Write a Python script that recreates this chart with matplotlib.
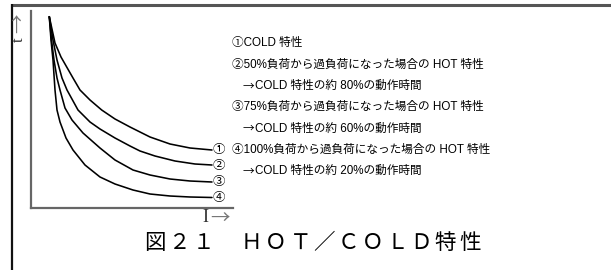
import matplotlib
matplotlib.use("Agg")
import matplotlib.pyplot as plt

plt.rcParams['font.family'] = ['Noto Sans CJK JP', 'DejaVu Sans']

# Curve data (I, t) in arbitrary units
cold_I = [18.3, 24, 30, 35.7, 42, 49, 59, 70.7, 84, 99, 119, 139, 159, 181]
cold_t = [191.3, 165, 151, 141, 130, 118, 108, 98, 89, 81, 71, 64, 60, 58]
hot50_I = [18.3, 22, 26, 31, 36, 47, 59, 69, 84, 99, 109, 124, 144, 164, 181]
hot50_t = [191.3, 168, 148, 130, 118, 98, 86, 79, 70, 62, 57, 52, 47, 44, 43]
hot75_I = [18.3, 20.5, 23, 26, 29, 34, 41, 52, 69, 84, 102, 119, 139, 159, 181]
hot75_t = [191.3, 168, 148, 130, 118, 100, 88, 75, 60, 48, 38, 33, 29, 27, 26]
hot100_I = [18.3, 20, 22, 24, 26, 29, 35, 42, 54, 69, 84, 102, 119, 139, 159, 181]
hot100_t = [191.3, 168, 148, 118, 98, 86, 70, 58, 43, 31, 24, 18, 14, 12, 11, 10.5]
curve_labels = ['①', '②', '③', '④']

# legend entries: (prefix arrow or '', text)
legend_lines = [
    ('', '①COLD 特性'),
    ('', '②50%負荷から過負荷になった場合の HOT 特性'),
    ('→', 'COLD 特性の約 80%の動作時間'),
    ('', '③75%負荷から過負荷になった場合の HOT 特性'),
    ('→', 'COLD 特性の約 60%の動作時間'),
    ('', '④100%負荷から過負荷になった場合の HOT 特性'),
    ('→', 'COLD 特性の約 20%の動作時間'),
]
caption = '図２１　ＨＯＴ／ＣＯＬＤ特性'

W, H = 611, 270
fig = plt.figure(figsize=(W / 100, H / 100), dpi=100)

# overlay in pixel coordinates
ov = fig.add_axes([0, 0, 1, 1])
ov.set_xlim(0, W)
ov.set_ylim(H, 0)
ov.axis('off')
ov.plot([11, 611], [5, 5], color='#555555', lw=2.2, solid_capstyle='butt')
ov.plot([11.5, 11.5], [4, 270], color='#111111', lw=1.6, solid_capstyle='butt')

# chart axes
x0, x1, ytop, ybot = 31, 233, 11, 208
ax = fig.add_axes([x0 / W, (H - ybot) / H, (x1 - x0) / W, (ybot - ytop) / H])
ax.set_xlim(0, x1 - x0)
ax.set_ylim(0, ybot - ytop)
ax.patch.set_alpha(0)
for s in ['top', 'right']:
    ax.spines[s].set_visible(False)
for s in ['left', 'bottom']:
    ax.spines[s].set_color('#666666')
    ax.spines[s].set_linewidth(1.6)
ax.set_xticks([])
ax.set_yticks([])

series = [(cold_I, cold_t), (hot50_I, hot50_t), (hot75_I, hot75_t), (hot100_I, hot100_t)]
for (xs, ys), lab in zip(series, curve_labels):
    ax.plot(xs, ys, color='black', lw=1.15, solid_capstyle='round')
    ax.text(xs[-1] + 1, ys[-1], lab, fontsize=9, ha='left', va='center')

serif = ['Liberation Serif', 'DejaVu Serif']
arrowfam = ['Noto Sans CJK JP']
# axis labels
ov.text(19, 40, 't', rotation=90, ha='center', va='center', fontsize=12,
        family=serif, color='#333333')
ov.text(19, 23, '→', rotation=90, ha='center', va='center', fontsize=14,
        family=arrowfam, color='#777777')
ov.text(205, 218, 'I', ha='center', va='center', fontsize=13,
        family=serif, color='#333333')
ov.text(220, 218, '→', ha='center', va='center', fontsize=14,
        family=arrowfam, color='#777777')

# legend text
legend_family = ['Liberation Sans', 'Noto Sans CJK JP']
y = 43
for arrow, line in legend_lines:
    if arrow:
        ov.text(243, y, arrow, ha='left', va='center', fontsize=8.4,
                family=['Noto Sans CJK JP'])
        ov.text(255, y, line, ha='left', va='center', fontsize=8.4,
                family=legend_family)
    else:
        ov.text(232, y, line, ha='left', va='center', fontsize=8.4,
                family=legend_family)
    y += 21.4

# caption, spaced character by character
pitch = 24.2
cx = 155
for ch in caption:
    ov.text(cx, 243, ch, ha='center', va='center', fontsize=15.5)
    cx += pitch

fig.savefig('out.png', dpi=100)
